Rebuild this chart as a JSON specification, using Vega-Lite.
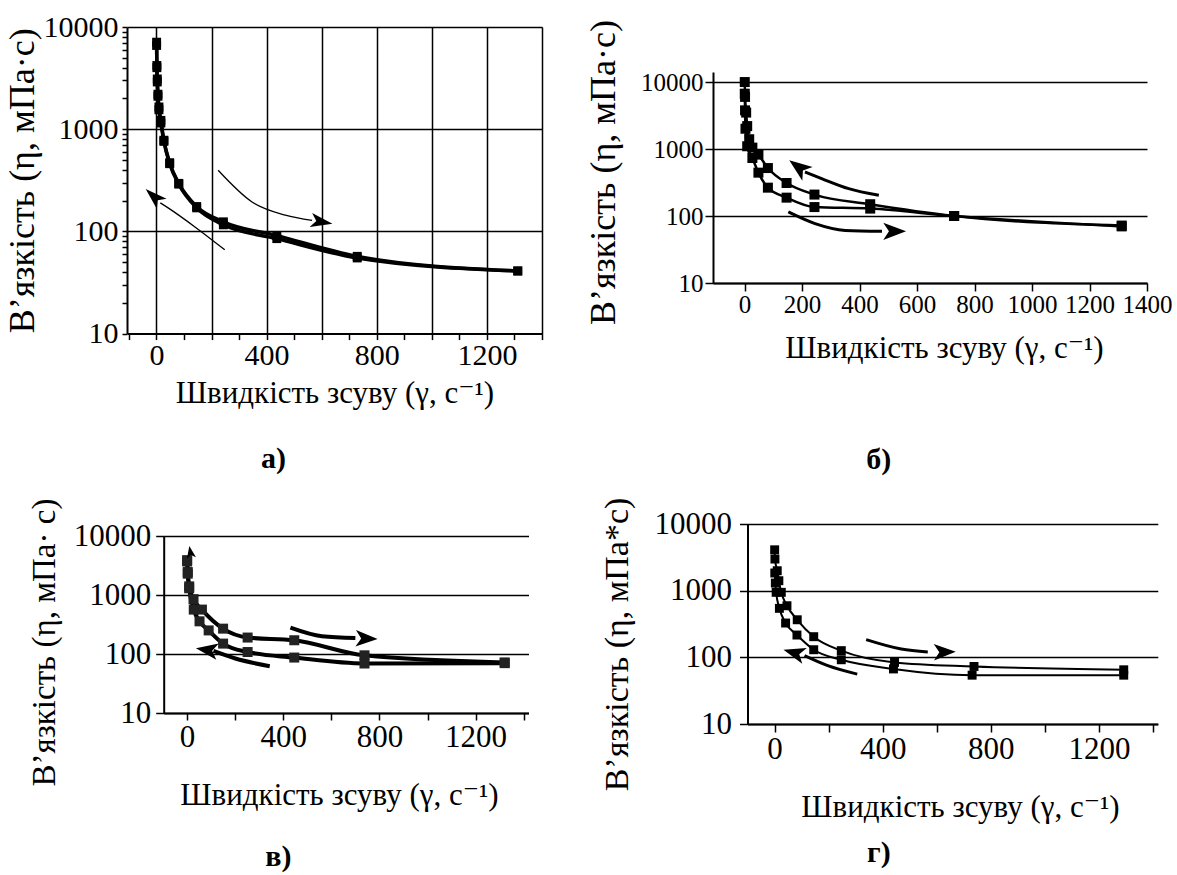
{
  "$schema": "https://vega.github.io/schema/vega-lite/v6.json",
  "background": "white",
  "padding": {"left": 3, "top": 12, "right": 0, "bottom": 0},
  "spacing": 42,
  "config": {
    "font": "Times New Roman, Liberation Serif, Tinos, DejaVu Serif, serif",
    "view": {"stroke": null},
    "title": {"font": "Times New Roman, Liberation Serif, Tinos, DejaVu Serif, serif", "fontSize": 30, "fontWeight": "bold", "color": "black"},
    "axis": {
      "labelFont": "Times New Roman, Liberation Serif, Tinos, DejaVu Serif, serif", "titleFont": "Times New Roman, Liberation Serif, Tinos, DejaVu Serif, serif", "titleFontWeight": "normal",
      "labelColor": "black", "titleColor": "black", "domainColor": "black", "tickColor": "black", "gridColor": "black",
      "domainWidth": 2, "tickWidth": 1.5, "gridWidth": 1.5, "labelOverlap": false, "labelFlush": false
    }
  },
  "datasets": {
    "curveA": [
      {"rate": 0.5, "visc": 7100, "branch": "up"}, {"rate": 1.5, "visc": 4200, "branch": "up"}, {"rate": 3, "visc": 3100, "branch": "up"},
      {"rate": 5.4, "visc": 2200, "branch": "up"}, {"rate": 9, "visc": 1650, "branch": "up"}, {"rate": 16, "visc": 1220, "branch": "up"},
      {"rate": 27, "visc": 780, "branch": "up"}, {"rate": 48, "visc": 470, "branch": "up"}, {"rate": 81, "visc": 295, "branch": "up"},
      {"rate": 146, "visc": 175, "branch": "up"}, {"rate": 243, "visc": 124, "branch": "up"}, {"rate": 437, "visc": 91, "branch": "up"},
      {"rate": 729, "visc": 57, "branch": "up"}, {"rate": 1312, "visc": 41, "branch": "up"},
      {"rate": 0.5, "visc": 6600, "branch": "down"}, {"rate": 1.5, "visc": 4000, "branch": "down"}, {"rate": 3, "visc": 2900, "branch": "down"},
      {"rate": 5.4, "visc": 2100, "branch": "down"}, {"rate": 9, "visc": 1550, "branch": "down"}, {"rate": 16, "visc": 1150, "branch": "down"},
      {"rate": 27, "visc": 760, "branch": "down"}, {"rate": 48, "visc": 460, "branch": "down"}, {"rate": 81, "visc": 290, "branch": "down"},
      {"rate": 146, "visc": 170, "branch": "down"}, {"rate": 243, "visc": 116, "branch": "down"}, {"rate": 437, "visc": 85, "branch": "down"},
      {"rate": 729, "visc": 55, "branch": "down"}, {"rate": 1312, "visc": 41, "branch": "down"}
    ],
    "arrowA": [
      {"arrow": "a1", "rate": 14, "visc": 190}, {"arrow": "a1", "rate": 45, "visc": 168}, {"arrow": "a1", "rate": 141, "visc": 110}, {"arrow": "a1", "rate": 248, "visc": 66},
      {"arrow": "a2", "rate": 224, "visc": 396}, {"arrow": "a2", "rate": 347, "visc": 194}, {"arrow": "a2", "rate": 468, "visc": 144}, {"arrow": "a2", "rate": 565, "visc": 128}
    ],
    "headA": [
      {"arrow": "a1", "rate": -10, "visc": 220}, {"arrow": "a2", "rate": 600, "visc": 124}
    ],
    "curveB": [
      {"rate": 0.5, "visc": 10000, "branch": "upper"}, {"rate": 1.5, "visc": 6000, "branch": "upper"}, {"rate": 5.4, "visc": 3500, "branch": "upper"},
      {"rate": 9, "visc": 2200, "branch": "upper"}, {"rate": 16, "visc": 1400, "branch": "upper"}, {"rate": 27, "visc": 1050, "branch": "upper"},
      {"rate": 48, "visc": 825, "branch": "upper"}, {"rate": 81, "visc": 520, "branch": "upper"}, {"rate": 146, "visc": 311, "branch": "upper"},
      {"rate": 243, "visc": 209, "branch": "upper"}, {"rate": 437, "visc": 150, "branch": "upper"}, {"rate": 729, "visc": 100, "branch": "upper"},
      {"rate": 1312, "visc": 72, "branch": "upper"},
      {"rate": 0.5, "visc": 6700, "branch": "lower"}, {"rate": 1.5, "visc": 3780, "branch": "lower"}, {"rate": 3, "visc": 2010, "branch": "lower"},
      {"rate": 9, "visc": 1100, "branch": "lower"}, {"rate": 27, "visc": 735, "branch": "lower"}, {"rate": 48, "visc": 444, "branch": "lower"},
      {"rate": 81, "visc": 265, "branch": "lower"}, {"rate": 146, "visc": 188, "branch": "lower"}, {"rate": 243, "visc": 136, "branch": "lower"},
      {"rate": 437, "visc": 129, "branch": "lower"}, {"rate": 729, "visc": 100, "branch": "lower"}, {"rate": 1312, "visc": 70, "branch": "lower"}
    ],
    "arrowB": [
      {"arrow": "b1", "rate": 210, "visc": 454}, {"arrow": "b1", "rate": 268, "visc": 362}, {"arrow": "b1", "rate": 362, "visc": 256}, {"arrow": "b1", "rate": 467, "visc": 204},
      {"arrow": "b2", "rate": 152, "visc": 115}, {"arrow": "b2", "rate": 245, "visc": 77}, {"arrow": "b2", "rate": 350, "visc": 61}, {"arrow": "b2", "rate": 478, "visc": 59}
    ],
    "headB": [
      {"arrow": "b1", "rate": 187, "visc": 538}, {"arrow": "b2", "rate": 522, "visc": 59}
    ],
    "curveC": [
      {"rate": 0.5, "visc": 3900, "branch": "upper"}, {"rate": 3, "visc": 2450, "branch": "upper"}, {"rate": 9, "visc": 1400, "branch": "upper"},
      {"rate": 27, "visc": 850, "branch": "upper"}, {"rate": 62, "visc": 566, "branch": "upper"}, {"rate": 150, "visc": 269, "branch": "upper"},
      {"rate": 252, "visc": 190, "branch": "upper"}, {"rate": 446, "visc": 171, "branch": "upper"}, {"rate": 738, "visc": 95, "branch": "upper"},
      {"rate": 1321, "visc": 72, "branch": "upper"},
      {"rate": 0.5, "visc": 3700, "branch": "lower"}, {"rate": 3, "visc": 2300, "branch": "lower"}, {"rate": 9, "visc": 1300, "branch": "lower"},
      {"rate": 28, "visc": 566, "branch": "lower"}, {"rate": 52, "visc": 358, "branch": "lower"}, {"rate": 90, "visc": 251, "branch": "lower"},
      {"rate": 150, "visc": 150, "branch": "lower"}, {"rate": 252, "visc": 108, "branch": "lower"}, {"rate": 446, "visc": 87, "branch": "lower"},
      {"rate": 738, "visc": 69, "branch": "lower"}, {"rate": 1321, "visc": 70, "branch": "lower"}
    ],
    "arrowC": [
      {"arrow": "c1", "rate": 430, "visc": 280}, {"arrow": "c1", "rate": 561, "visc": 200}, {"arrow": "c1", "rate": 700, "visc": 186},
      {"arrow": "c2", "rate": 110, "visc": 113}, {"arrow": "c2", "rate": 201, "visc": 84}, {"arrow": "c2", "rate": 344, "visc": 62}
    ],
    "headC": [
      {"arrow": "c1", "rate": 747, "visc": 182}, {"arrow": "c2", "rate": 82, "visc": 117}, {"arrow": "c3", "rate": 14, "visc": 5360}
    ],
    "curveD": [
      {"rate": 0.5, "visc": 4100, "branch": "upper"}, {"rate": 1.5, "visc": 2980, "branch": "upper"}, {"rate": 10, "visc": 1990, "branch": "upper"},
      {"rate": 16, "visc": 1410, "branch": "upper"}, {"rate": 25, "visc": 944, "branch": "upper"}, {"rate": 46, "visc": 594, "branch": "upper"},
      {"rate": 84, "visc": 366, "branch": "upper"}, {"rate": 145, "visc": 204, "branch": "upper"}, {"rate": 247, "visc": 126, "branch": "upper"},
      {"rate": 444, "visc": 84, "branch": "upper"}, {"rate": 738, "visc": 73, "branch": "upper"}, {"rate": 1292, "visc": 65, "branch": "upper"},
      {"rate": 1, "visc": 1840, "branch": "lower"}, {"rate": 3, "visc": 1300, "branch": "lower"}, {"rate": 6, "visc": 944, "branch": "lower"},
      {"rate": 18, "visc": 543, "branch": "lower"}, {"rate": 41, "visc": 327, "branch": "lower"}, {"rate": 83, "visc": 216, "branch": "lower"},
      {"rate": 145, "visc": 130, "branch": "lower"}, {"rate": 247, "visc": 92, "branch": "lower"}, {"rate": 440, "visc": 67, "branch": "lower"},
      {"rate": 731, "visc": 54, "branch": "lower"}, {"rate": 1292, "visc": 54, "branch": "lower"}
    ],
    "arrowD": [
      {"arrow": "d1", "rate": 339, "visc": 184}, {"arrow": "d1", "rate": 469, "visc": 133}, {"arrow": "d1", "rate": 567, "visc": 120},
      {"arrow": "d2", "rate": 111, "visc": 106}, {"arrow": "d2", "rate": 197, "visc": 75}, {"arrow": "d2", "rate": 306, "visc": 56}
    ],
    "headD": [
      {"arrow": "d1", "rate": 630, "visc": 120}, {"arrow": "d2", "rate": 72, "visc": 117}
    ]
  },
  "hconcat": [
    {
      "spacing": 24,
      "vconcat": [
        {
          "width": 415, "height": 306.6,
          "title": {"text": "а)", "orient": "bottom", "anchor": "middle", "frame": "bounds", "offset": 35},
          "encoding": {
            "x": {"field": "rate", "type": "quantitative", "title": "Швидкість зсуву (γ, с⁻¹)",
              "scale": {"domain": [-107, 1400], "nice": false, "zero": false},
              "axis": {"values": [-100, 0, 100, 200, 300, 400, 500, 600, 700, 800, 900, 1000, 1100, 1200, 1300, 1400], "format": "d",
                "labelExpr": "datum.value >= 0 && datum.value % 400 == 0 ? datum.label : ''",
                "labelFontSize": 30, "titleFontSize": 31, "tickSize": 6, "labelPadding": 1, "titlePadding": 8,
                "grid": true, "gridOpacity": {"condition": {"test": "datum.value >= 0 && datum.value % 200 == 0", "value": 1}, "value": 0}}},
            "y": {"field": "visc", "type": "quantitative", "title": "В’язкість (η, мПа·с)",
              "scale": {"type": "log", "domain": [10, 10000], "nice": false},
              "axis": {"values": [10, 20, 30, 40, 50, 60, 70, 80, 90, 100, 200, 300, 400, 500, 600, 700, 800, 900, 1000, 2000, 3000, 4000, 5000, 6000, 7000, 8000, 9000, 10000], "format": "d",
                "labelExpr": "datum.value == 10 || datum.value == 100 || datum.value == 1000 || datum.value == 10000 ? datum.label : ''",
                "labelFontSize": 30, "titleFontSize": 36, "tickSize": 5, "labelPadding": 4, "titlePadding": 2,
                "grid": true, "gridOpacity": {"condition": {"test": "datum.value == 100 || datum.value == 1000 || datum.value == 10000", "value": 1}, "value": 0}}}
          },
          "layer": [
            {"data": {"name": "arrowA"}, "mark": {"type": "line", "interpolate": "monotone", "color": "black", "strokeWidth": 1.3}, "encoding": {"detail": {"field": "arrow"}}},
            {"data": {"name": "curveA"}, "mark": {"type": "line", "interpolate": "monotone", "color": "black", "strokeWidth": 3.5}, "encoding": {"detail": {"field": "branch"}}},
            {"data": {"name": "curveA"}, "mark": {"type": "point", "shape": "square", "filled": true, "color": "black", "opacity": 1, "size": 80}},
            {"data": {"name": "headA"}, "transform": [{"filter": "datum.arrow == 'a1'"}], "mark": {"type": "point", "shape": "M0,-1L0.65,1L0,0.5L-0.65,1Z", "filled": true, "color": "black", "opacity": 1, "size": 480, "angle": 313}},
            {"data": {"name": "headA"}, "transform": [{"filter": "datum.arrow == 'a2'"}], "mark": {"type": "point", "shape": "M0,-1L0.65,1L0,0.5L-0.65,1Z", "filled": true, "color": "black", "opacity": 1, "size": 480, "angle": 100}}
          ]
        },
        {
          "width": 401.5, "height": 177,
          "title": {"text": "в)", "orient": "bottom", "anchor": "middle", "frame": "bounds", "offset": 32},
          "encoding": {
            "x": {"field": "rate", "type": "quantitative", "title": "Швидкість зсуву (γ, с⁻¹)",
              "scale": {"domain": [-97, 1420], "range": [36.7, 401.5], "nice": false, "zero": false},
              "axis": {"values": [0, 200, 400, 600, 800, 1000, 1200, 1400], "format": "d",
                "labelExpr": "datum.value % 400 == 0 ? datum.label : ''",
                "labelFontSize": 31, "titleFontSize": 31, "tickSize": 7, "labelPadding": 2, "titlePadding": 28, "titleX": 212, "grid": false}},
            "y": {"field": "visc", "type": "quantitative", "title": "В’язкість (η, мПа· с)",
              "scale": {"type": "log", "domain": [10, 10000], "nice": false},
              "axis": {"values": [10, 100, 1000, 10000], "format": "d", "offset": -36.7,
                "labelFontSize": 31, "titleFontSize": 33, "tickSize": 8, "labelPadding": 5, "titlePadding": 12, "titleY": 106,
                "grid": true}}
          },
          "layer": [
            {"data": {"name": "arrowC"}, "mark": {"type": "line", "interpolate": "monotone", "color": "black", "strokeWidth": 4}, "encoding": {"detail": {"field": "arrow"}}},
            {"data": {"name": "curveC"}, "mark": {"type": "line", "interpolate": "monotone", "color": "black", "strokeWidth": 4}, "encoding": {"detail": {"field": "branch"}}},
            {"data": {"name": "curveC"}, "mark": {"type": "point", "shape": "square", "filled": true, "color": "#222", "opacity": 1, "size": 100}},
            {"data": {"name": "headC"}, "transform": [{"filter": "datum.arrow == 'c1'"}], "mark": {"type": "point", "shape": "M0,-1L0.75,1L0,0.5L-0.75,1Z", "filled": true, "color": "black", "opacity": 1, "size": 480, "angle": 92}},
            {"data": {"name": "headC"}, "transform": [{"filter": "datum.arrow == 'c2'"}], "mark": {"type": "point", "shape": "M0,-1L0.75,1L0,0.5L-0.75,1Z", "filled": true, "color": "black", "opacity": 1, "size": 480, "angle": 279}},
            {"data": {"name": "headC"}, "transform": [{"filter": "datum.arrow == 'c3'"}], "mark": {"type": "point", "shape": "M0,-1L0.75,1L0,0.5L-0.75,1Z", "filled": true, "color": "black", "opacity": 1, "size": 150, "angle": 350}}
          ]
        }
      ]
    },
    {
      "spacing": 22,
      "vconcat": [
        {
          "width": 434, "height": 256,
          "title": {"text": "б)", "orient": "bottom", "anchor": "middle", "frame": "bounds", "offset": 82},
          "encoding": {
            "x": {"field": "rate", "type": "quantitative", "title": "Швидкість зсуву (γ, с⁻¹)",
              "scale": {"domain": [-110, 1400], "nice": false, "zero": false},
              "axis": {"values": [0, 200, 400, 600, 800, 1000, 1200, 1400], "format": "d",
                "labelFontSize": 25, "titleFontSize": 31, "tickSize": 8, "labelPadding": 1, "titlePadding": 16, "titleX": 231, "grid": false}},
            "y": {"field": "visc", "type": "quantitative", "title": "В’язкість (η, мПа·с)",
              "scale": {"type": "log", "domain": [10, 14125], "range": [256, 45], "nice": false},
              "axis": {"values": [10, 100, 1000, 10000], "format": "d",
                "labelFontSize": 25, "titleFontSize": 36, "tickSize": 8, "labelPadding": 2, "titlePadding": 18, "titleY": 145,
                "grid": true}}
          },
          "layer": [
            {"data": {"name": "arrowB"}, "mark": {"type": "line", "interpolate": "monotone", "color": "black", "strokeWidth": 3}, "encoding": {"detail": {"field": "arrow"}}},
            {"data": {"name": "curveB"}, "mark": {"type": "line", "interpolate": "monotone", "color": "black", "strokeWidth": 2.5}, "encoding": {"detail": {"field": "branch"}}},
            {"data": {"name": "curveB"}, "mark": {"type": "point", "shape": "square", "filled": true, "color": "black", "opacity": 1, "size": 100}},
            {"data": {"name": "headB"}, "transform": [{"filter": "datum.arrow == 'b1'"}], "mark": {"type": "point", "shape": "M0,-1L0.75,1L0,0.5L-0.75,1Z", "filled": true, "color": "black", "opacity": 1, "size": 520, "angle": 307}},
            {"data": {"name": "headB"}, "transform": [{"filter": "datum.arrow == 'b2'"}], "mark": {"type": "point", "shape": "M0,-1L0.75,1L0,0.5L-0.75,1Z", "filled": true, "color": "black", "opacity": 1, "size": 520, "angle": 90}}
          ]
        },
        {
          "width": 444.8, "height": 200,
          "title": {"text": "г)", "orient": "bottom", "anchor": "middle", "frame": "bounds", "offset": 16},
          "encoding": {
            "x": {"field": "rate", "type": "quantitative", "title": "Швидкість зсуву (γ, с⁻¹)",
              "scale": {"domain": [-100, 1418], "range": [34.5, 444.8], "nice": false, "zero": false},
              "axis": {"values": [0, 200, 400, 600, 800, 1000, 1200, 1400], "format": "d",
                "labelExpr": "datum.value % 400 == 0 ? datum.label : ''",
                "labelFontSize": 31, "titleFontSize": 31, "tickSize": 8, "labelPadding": 2, "titlePadding": 28, "titleX": 247, "grid": false}},
            "y": {"field": "visc", "type": "quantitative", "title": "В’язкість (η, мПа*с)",
              "scale": {"type": "log", "domain": [10, 10000], "nice": false},
              "axis": {"values": [10, 100, 1000, 10000], "format": "d", "offset": -34.5,
                "labelFontSize": 31, "titleFontSize": 34, "tickSize": 8, "labelPadding": 8, "titlePadding": 20, "titleY": 120,
                "grid": true}}
          },
          "layer": [
            {"data": {"name": "arrowD"}, "mark": {"type": "line", "interpolate": "monotone", "color": "black", "strokeWidth": 3}, "encoding": {"detail": {"field": "arrow"}}},
            {"data": {"name": "curveD"}, "mark": {"type": "line", "interpolate": "monotone", "color": "black", "strokeWidth": 2}, "encoding": {"detail": {"field": "branch"}}},
            {"data": {"name": "curveD"}, "mark": {"type": "point", "shape": "square", "filled": true, "color": "black", "opacity": 1, "size": 80}},
            {"data": {"name": "headD"}, "transform": [{"filter": "datum.arrow == 'd1'"}], "mark": {"type": "point", "shape": "M0,-1L0.75,1L0,0.5L-0.75,1Z", "filled": true, "color": "black", "opacity": 1, "size": 480, "angle": 89}},
            {"data": {"name": "headD"}, "transform": [{"filter": "datum.arrow == 'd2'"}], "mark": {"type": "point", "shape": "M0,-1L0.75,1L0,0.5L-0.75,1Z", "filled": true, "color": "black", "opacity": 1, "size": 480, "angle": 286}}
          ]
        }
      ]
    }
  ]
}
